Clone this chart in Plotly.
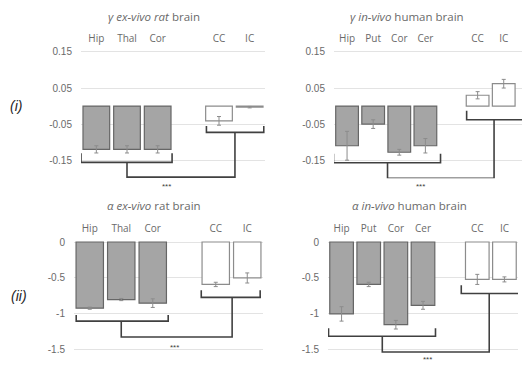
import plotly.graph_objects as go

W, H = 522, 369

# ---------------- data ----------------
tl_cats = ["Hip", "Thal", "Cor", "CC", "IC"]
tl_pos = [0, 1, 2, 4, 5]
tl_vals = [-0.12, -0.12, -0.12, -0.041, -0.003]
tl_err = [0.01, 0.01, 0.01, 0.012, 0.002]

tr_cats = ["Hip", "Put", "Cor", "Cer", "CC", "IC"]
tr_pos = [0, 1, 2, 3, 5, 6]
tr_vals = [-0.11, -0.05, -0.128, -0.11, 0.03, 0.062]
tr_err = [0.04, 0.012, 0.008, 0.02, 0.01, 0.012]

bl_cats = ["Hip", "Thal", "Cor", "CC", "IC"]
bl_pos = [0, 1, 2, 4, 5]
bl_vals = [-0.92, -0.80, -0.85, -0.59, -0.50]
bl_err = [0.015, 0.015, 0.06, 0.03, 0.07]

br_cats = ["Hip", "Put", "Cor", "Cer", "CC", "IC"]
br_pos = [0, 1, 2, 3, 5, 6]
br_vals = [-1.0, -0.59, -1.15, -0.88, -0.52, -0.52]
br_err = [0.1, 0.03, 0.06, 0.055, 0.07, 0.035]

top_ticks = [0.15, 0.05, -0.05, -0.15]
top_ticktext = ["0.15", "0.05", "-0.05", "-0.15"]
bot_ticks = [0, -0.5, -1, -1.5]
bot_ticktext = ["0", "-0.5", "-1", "-1.5"]

titles = ["<i>γ ex-vivo rat</i> brain", "<i>γ in-vivo</i> human brain",
          "<i>α ex-vivo</i> rat brain", "<i>α in-vivo</i> human brain"]
row_labels = ["<i>(i)</i>", "<i>(ii)</i>"]

# bracket specs
brackets = [
    dict(g1=(-0.5, 2.47, -0.156, -0.131), g2=(3.59, 5.46, -0.073, -0.055), s1=1.0, s2=4.52, sb=-0.197, star=(2.3, -0.222)),
    dict(g1=(-0.52, 3.58, -0.157, -0.132), g2=(4.58, 6.75, -0.038, -0.013), s1=1.55, s2=5.63, sb=-0.2, star=(2.83, -0.224)),
    dict(g1=(-0.43, 2.49, -1.10, -1.015), g2=(3.54, 5.41, -0.77, -0.67), s1=1.0, s2=4.52, sb=-1.32, star=(2.7, -1.46)),
    dict(g1=(-0.48, 3.46, -1.31, -1.20), g2=(4.41, 6.54, -0.715, -0.60), s1=1.5, s2=5.44, sb=-1.53, star=(3.16, -1.64)),
]

GRAY = "#a5a5a5"
TXT = "#6a6a6a"
panels = [
    (tl_cats, tl_pos, tl_vals, tl_err, 3),
    (tr_cats, tr_pos, tr_vals, tr_err, 4),
    (bl_cats, bl_pos, bl_vals, bl_err, 3),
    (br_cats, br_pos, br_vals, br_err, 4),
]

# layout geometry (pixels)
xdom_px = [(81, 265), (334, 522), (74, 263), (328, 518)]
xrng = [(-0.5, 5.5), (-0.5, 6.7), (-0.5, 5.5), (-0.5, 6.5)]
ydom_px = [(45, 179.2), (45, 179.2), (236.1, 355.4), (236.1, 355.4)]
yrng = [(-0.2, 0.17), (-0.2, 0.17), (-1.55, 0.1), (-1.55, 0.1)]

fig = go.Figure()
layout = dict(width=W, height=H, margin=dict(l=0, r=0, t=0, b=0),
              paper_bgcolor="white", plot_bgcolor="white", showlegend=False,
              bargap=0.13, shapes=[], annotations=[])

for i, (cats, pos, vals, err, ngray) in enumerate(panels):
    k = "" if i == 0 else str(i + 1)
    colors = [GRAY if j < ngray else "white" for j in range(len(vals))]
    lcolors = ["#666666" if j < ngray else "#8c8c8c" for j in range(len(vals))]
    fig.add_trace(go.Bar(
        x=pos, y=vals, xaxis="x" + k, yaxis="y" + k,
        marker=dict(color=colors, line=dict(color=lcolors, width=1.2)),
        error_y=dict(type="data", array=err, color="#8c8c8c", thickness=1, width=2),
    ))
    x0, x1 = xdom_px[i]
    ytop, ybot = ydom_px[i]
    top = i < 2
    layout["xaxis" + k] = dict(
        domain=[x0 / W, x1 / W], range=list(xrng[i]), anchor="y" + k, side="top",
        tickvals=pos, ticktext=cats, showgrid=False, zeroline=False, showline=False,
        ticks="", tickfont=dict(family="Open Sans", size=10, color=TXT), ticklabelstandoff=0,
    )
    layout["yaxis" + k] = dict(
        domain=[1 - ybot / H, 1 - ytop / H], range=list(yrng[i]), anchor="x" + k,
        tickvals=top_ticks if top else bot_ticks,
        ticktext=top_ticktext if top else bot_ticktext,
        showgrid=True, gridcolor="#e3e3e3", gridwidth=1, zeroline=False, showline=False,
        ticks="", tickfont=dict(family="Liberation Sans", size=10, color=TXT),
        ticklabelstandoff=8,
    )
    b = brackets[i]
    LC = "#404040"
    gx0, gx1, gy, ge = b["g1"]
    hx0, hx1, hy, he = b["g2"]
    for (ax0, ax1, ay, ae) in [(gx0, gx1, gy, ge), (hx0, hx1, hy, he)]:
        layout["shapes"].append(dict(
            type="path", xref="x" + k, yref="y" + k,
            path=f"M {ax0},{ae} L {ax0},{ay} L {ax1},{ay} L {ax1},{ae}",
            line=dict(color=LC, width=1.6)))
    layout["shapes"].append(dict(
        type="path", xref="x" + k, yref="y" + k,
        path=f"M {b['s1']},{gy} L {b['s1']},{b['sb']} L {b['s2']},{b['sb']} L {b['s2']},{hy}",
        line=dict(color=LC, width=1.6)))
    # star: convert data y to paper y (may lie below the axis range)
    sx, sy = b["star"]
    r0, r1 = yrng[i]
    frac = (sy - r0) / (r1 - r0)
    py = (1 - ybot / H) + frac * ((ybot - ytop) / H)
    layout["annotations"].append(dict(
        x=sx, y=py, xref="x" + k, yref="paper", text="***", showarrow=False,
        font=dict(family="Liberation Sans", size=8, color="#404040"),
        xanchor="center", yanchor="middle"))

title_pos = [(154, 17), (407, 17), (154, 207), (409, 207)]
for t, (tx, ty) in zip(titles, title_pos):
    layout["annotations"].append(dict(
        x=tx / W, y=1 - ty / H, xref="paper", yref="paper", text=t, showarrow=False,
        font=dict(family="Open Sans", size=11.5, color=TXT), xanchor="center", yanchor="middle"))

for t, (tx, ty) in zip(row_labels, [(16, 107), (19, 298)]):
    layout["annotations"].append(dict(
        x=tx / W, y=1 - ty / H, xref="paper", yref="paper", text=t, showarrow=False,
        font=dict(family="Liberation Sans", size=14, color="#262626"), xanchor="center", yanchor="middle"))

fig.update_layout(**layout)
fig.write_html("out.html")
